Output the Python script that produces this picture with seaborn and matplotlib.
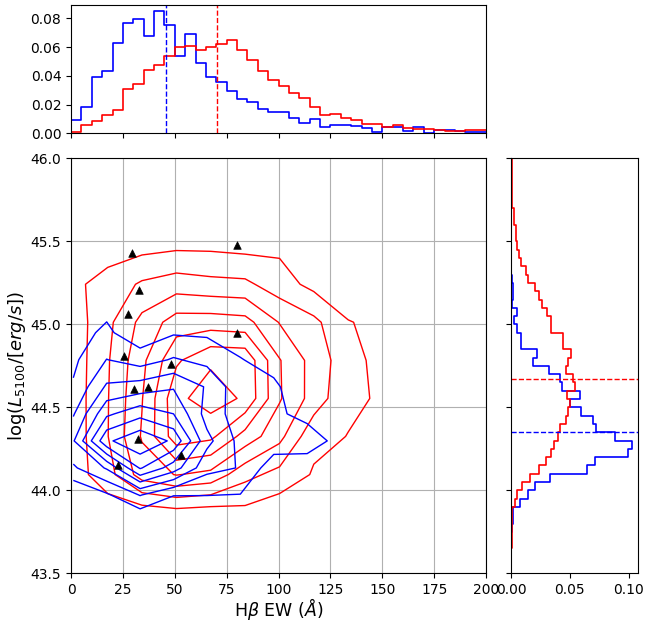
import numpy as np
import matplotlib
matplotlib.use("Agg")
import matplotlib.pyplot as plt
from matplotlib.ticker import FormatStrFormatter
import seaborn as sns

# ---------------- data ----------------
# top histogram: H-beta EW, 40 bins of width 5 between 0 and 200
ew_edges = list(range(0, 205, 5))
ew_blue = [0.0093, 0.0180, 0.0394, 0.0436, 0.0625, 0.0770, 0.0795, 0.0680, 0.0850, 0.0756,
           0.0536, 0.0690, 0.0490, 0.0394, 0.0355, 0.0296, 0.0238, 0.0217, 0.0170, 0.0149,
           0.0149, 0.0110, 0.0075, 0.0100, 0.0042, 0.0060, 0.0058, 0.0051, 0.0035, 0.0007,
           0.0044, 0.0044, 0.0019, 0.0042, 0.0000, 0.0020, 0.0026, 0.0016, 0.0010, 0.0010]
ew_red = [0.0012, 0.0056, 0.0089, 0.0126, 0.0163, 0.0308, 0.0345, 0.0438, 0.0473, 0.0539,
          0.0602, 0.0609, 0.0583, 0.0600, 0.0620, 0.0648, 0.0580, 0.0510, 0.0436, 0.0369,
          0.0331, 0.0278, 0.0243, 0.0182, 0.0128, 0.0133, 0.0105, 0.0091, 0.0065, 0.0068,
          0.0047, 0.0056, 0.0037, 0.0030, 0.0030, 0.0023, 0.0019, 0.0016, 0.0020, 0.0020]
ew_median_blue = 46.0
ew_median_red = 70.5

# right histogram: log L5100, 50 bins of width 0.05 between 43.5 and 46.0
lum_edges = [round(43.5 + 0.05 * i, 2) for i in range(51)]
lum_blue = [0.0001, 0.0001, 0.0001, 0.0002, 0.0003, 0.0006, 0.0020, 0.0020, 0.0076, 0.0147,
            0.0203, 0.0331, 0.0647, 0.0712, 0.0994, 0.1031, 0.0881, 0.0726, 0.0698, 0.0593,
            0.0500, 0.0585, 0.0435, 0.0415, 0.0325, 0.0190, 0.0218, 0.0085, 0.0085, 0.0048,
            0.0028, 0.0048, 0.0010, 0.0020, 0.0020, 0.0010, 0.0003, 0.0, 0.0, 0.0,
            0.0, 0.0, 0.0, 0.0, 0.0, 0.0, 0.0, 0.0, 0.0, 0.0]
lum_red = [0.0002, 0.0003, 0.0003, 0.0005, 0.0005, 0.0006, 0.0010, 0.0011, 0.0034, 0.0054,
           0.0090, 0.0162, 0.0237, 0.0294, 0.0339, 0.0367, 0.0401, 0.0415, 0.0471, 0.0486,
           0.0506, 0.0480, 0.0542, 0.0528, 0.0466, 0.0486, 0.0514, 0.0444, 0.0444, 0.0339,
           0.0339, 0.0308, 0.0266, 0.0240, 0.0203, 0.0147, 0.0124, 0.0085, 0.0068, 0.0050,
           0.0040, 0.0040, 0.0025, 0.0025, 0.0011, 0.0011, 0.0011, 0.0006, 0.0006, 0.0006]
lum_median_blue = 44.35
lum_median_red = 44.67

# density grids behind the contours (relative level units), rows = y nodes ascending
red_grid_x = [1.1, 17.7, 34.2, 50.8, 67.3, 83.9, 100.5, 117.0, 133.6, 150.2]
red_grid_y = [43.637, 43.866, 44.095, 44.325, 44.554, 44.783, 45.013, 45.242, 45.471, 45.700, 45.930]
red_density = [
    [0.05, 0.05, 0.05, 0.05, 0.05, 0.10, 0.05, 0.02, 0.01, 0.00],
    [0.30, 0.40, 0.41, 0.64, 0.50, 0.70, 0.33, 0.20, 0.10, 0.05],
    [0.53, 1.60, 3.45, 4.05, 3.71, 2.32, 1.67, 0.91, 0.40, 0.20],
    [0.42, 1.97, 4.10, 6.58, 6.24, 4.60, 3.30, 1.24, 0.98, 0.60],
    [0.44, 1.95, 3.95, 6.74, 7.49, 6.85, 4.10, 2.59, 1.15, 0.91],
    [0.42, 1.90, 3.75, 5.85, 6.84, 6.77, 4.06, 2.61, 1.39, 0.64],
    [0.46, 1.75, 3.29, 4.47, 4.51, 4.36, 2.95, 2.26, 1.05, 0.73],
    [0.78, 1.40, 2.14, 2.50, 2.30, 2.22, 1.45, 0.70, 0.25, 0.20],
    [0.40, 0.50, 0.66, 0.81, 0.80, 0.68, 0.79, 0.30, 0.10, 0.05],
    [0.10, 0.15, 0.20, 0.25, 0.20, 0.20, 0.25, 0.10, 0.05, 0.02],
    [0.02, 0.05, 0.05, 0.05, 0.05, 0.05, 0.05, 0.03, 0.01, 0.00],
]
blue_grid_x = [1.1, 17.2, 33.3, 49.4, 65.5, 81.6, 97.7, 113.8, 129.9, 146.0]
blue_grid_y = [43.646, 43.809, 43.972, 44.135, 44.298, 44.461, 44.624, 44.787, 44.950, 45.113, 45.276]
blue_density = [
    [0.00, 0.00, 0.00, 0.00, 0.00, 0.00, 0.00, 0.00, 0.00, 0.00],
    [0.00, 0.10, 0.00, 0.05, 0.05, 0.05, 0.00, 0.00, 0.00, 0.00],
    [0.00, 0.85, 2.05, 1.03, 1.02, 0.97, 0.10, 0.00, 0.00, 0.00],
    [1.85, 3.10, 6.10, 4.50, 2.30, 1.95, 0.40, 0.10, 0.05, 0.00],
    [2.90, 6.80, 7.86, 6.80, 3.30, 1.70, 1.60, 1.80, 0.47, 0.00],
    [1.90, 4.80, 5.67, 5.00, 2.60, 1.50, 1.30, 0.55, 0.20, 0.00],
    [1.10, 3.15, 3.44, 3.90, 2.90, 1.30, 1.20, 0.20, 0.05, 0.00],
    [0.80, 2.02, 1.53, 2.10, 1.70, 1.05, 0.60, 0.10, 0.00, 0.00],
    [0.60, 1.20, 0.30, 0.90, 0.85, 0.50, 0.30, 0.05, 0.00, 0.00],
    [0.30, 0.70, 0.15, 0.40, 0.40, 0.20, 0.10, 0.00, 0.00, 0.00],
    [0.10, 0.20, 0.05, 0.10, 0.10, 0.05, 0.02, 0.00, 0.00, 0.00],
]
contour_levels = [1, 2, 3, 4, 5, 6, 7]

# individual objects (black triangles)
obj_ew = [29.4, 32.8, 27.5, 80.1, 80.1, 25.6, 48.3, 30.4, 37.2, 32.3, 53.1, 22.7]
obj_lum = [45.43, 45.21, 45.06, 45.48, 44.95, 44.81, 44.76, 44.61, 44.62, 44.31, 44.21, 44.15]

# ---------------- figure ----------------
fig = plt.figure(figsize=(6.45, 6.21), dpi=100)
ax = fig.add_axes([0.1101, 0.0768, 0.6434, 0.668])
ax_top = fig.add_axes([0.1101, 0.7853, 0.6434, 0.2066])
ax_right = fig.add_axes([0.7922, 0.0768, 0.1974, 0.668])

# main panel
ax.contour(red_grid_x, red_grid_y, np.array(red_density), levels=contour_levels,
           colors="red", linewidths=1.0)
ax.contour(blue_grid_x, blue_grid_y, np.array(blue_density), levels=contour_levels,
           colors="blue", linewidths=1.0)
sns.scatterplot(x=obj_ew, y=obj_lum, marker="^", color="black", edgecolor="black",
                s=30, ax=ax, zorder=5, legend=False)
ax.set_xlim(0, 200)
ax.set_ylim(43.5, 46.0)
ax.set_xticks(np.arange(0, 201, 25))
ax.set_yticks([43.5, 44.0, 44.5, 45.0, 45.5, 46.0])
ax.yaxis.set_major_formatter(FormatStrFormatter("%.1f"))
ax.grid(True)
ax.set_xlabel(r"H$\beta$ EW ($\AA$)", fontsize=12.5, labelpad=-1)
ax.set_ylabel(r"$\log(L_{5100}/[erg/s])$", fontsize=13, labelpad=2)

# top histogram
ew_centers = [(ew_edges[i] + ew_edges[i + 1]) / 2 for i in range(len(ew_edges) - 1)]
sns.histplot(x=ew_centers, weights=ew_blue, bins=ew_edges, element="step", fill=False,
             color="blue", linewidth=1.2, ax=ax_top)
sns.histplot(x=ew_centers, weights=ew_red, bins=ew_edges, element="step", fill=False,
             color="red", linewidth=1.2, ax=ax_top)
ax_top.axvline(ew_median_blue, color="blue", ls="--", lw=1.0)
ax_top.axvline(ew_median_red, color="red", ls="--", lw=1.0)
ax_top.set_xlim(0, 200)
ax_top.set_xticks(np.arange(0, 201, 25))
ax_top.set_ylim(bottom=0)
ax_top.set_yticks([0.0, 0.02, 0.04, 0.06, 0.08])
ax_top.yaxis.set_major_formatter(FormatStrFormatter("%.2f"))
ax_top.tick_params(labelbottom=False)
ax_top.set_xlabel("")
ax_top.set_ylabel("")

# right histogram
lum_centers = [(lum_edges[i] + lum_edges[i + 1]) / 2 for i in range(len(lum_edges) - 1)]
sns.histplot(y=lum_centers, weights=lum_blue, bins=lum_edges, element="step", fill=False,
             color="blue", linewidth=1.2, ax=ax_right)
sns.histplot(y=lum_centers, weights=lum_red, bins=lum_edges, element="step", fill=False,
             color="red", linewidth=1.2, ax=ax_right)
ax_right.axhline(lum_median_blue, color="blue", ls="--", lw=1.0)
ax_right.axhline(lum_median_red, color="red", ls="--", lw=1.0)
ax_right.set_ylim(43.5, 46.0)
ax_right.set_yticks([43.5, 44.0, 44.5, 45.0, 45.5, 46.0])
ax_right.set_xlim(left=0)
ax_right.set_xticks([0.0, 0.05, 0.10])
ax_right.xaxis.set_major_formatter(FormatStrFormatter("%.2f"))
ax_right.tick_params(labelleft=False)
ax_right.set_xlabel("")
ax_right.set_ylabel("")

fig.savefig("out.png", dpi=100)
